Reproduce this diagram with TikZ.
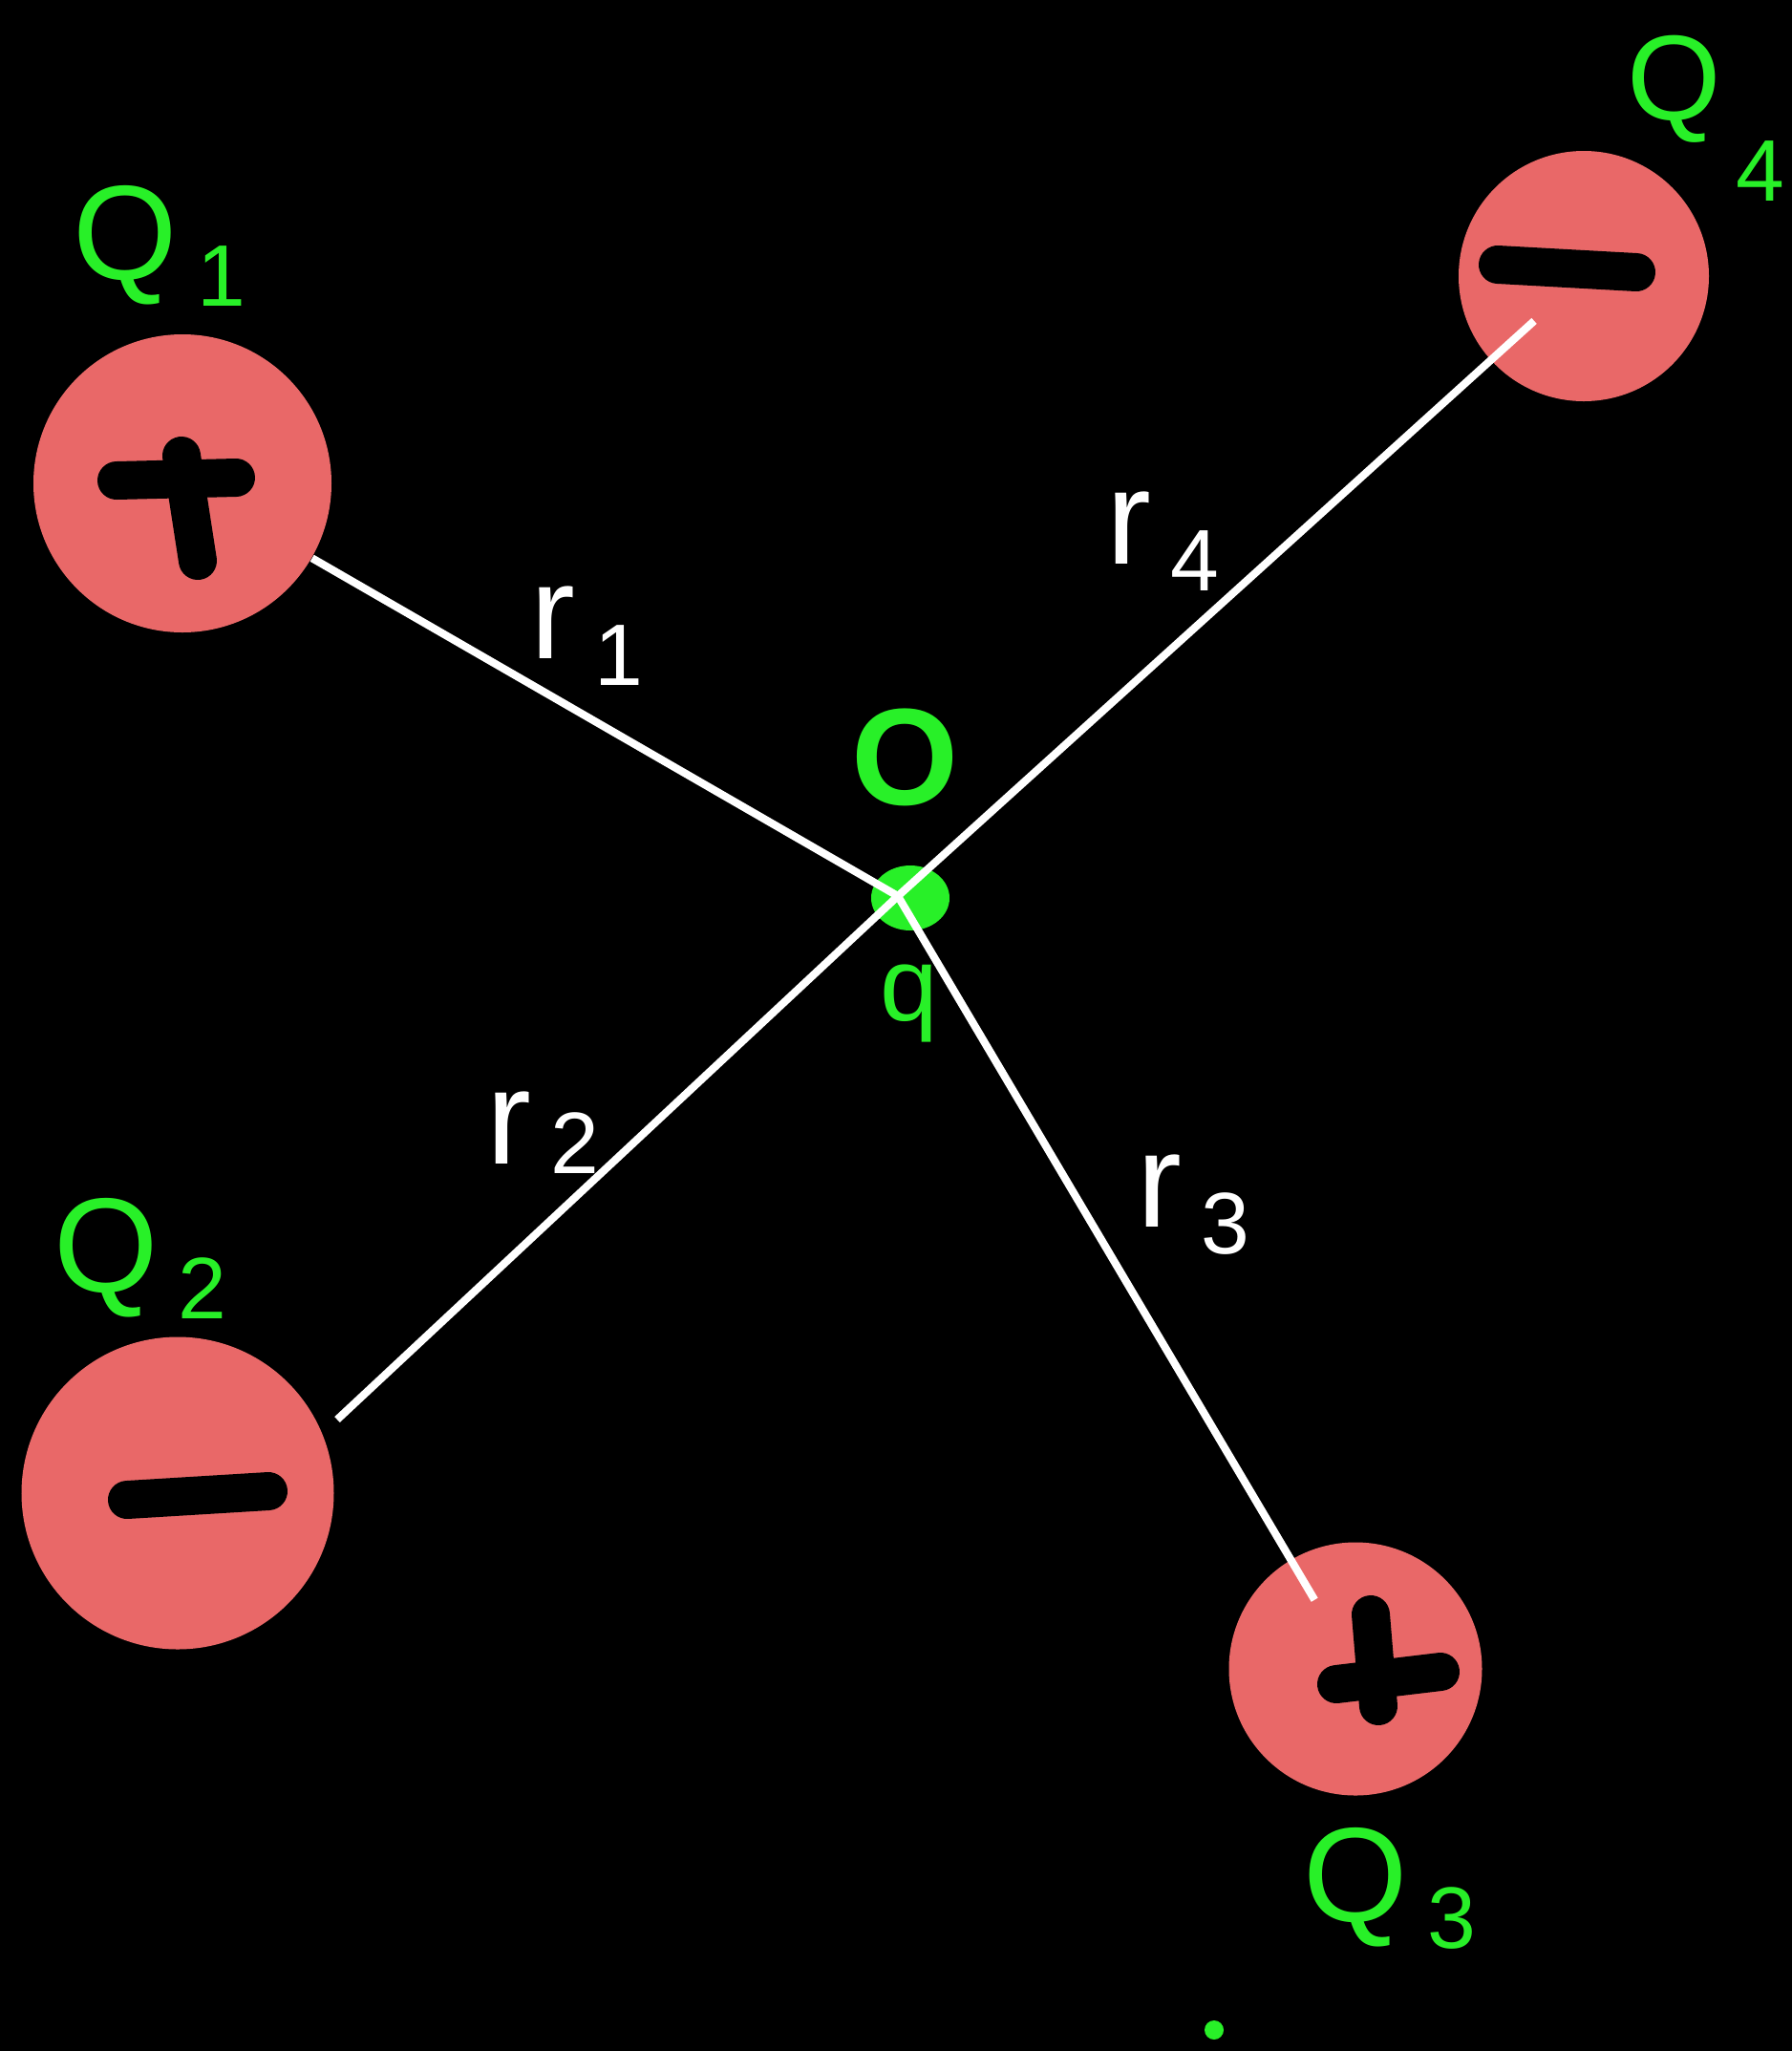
\documentclass[tikz,border=0pt]{standalone}
\usepackage{fontspec}
\setmainfont{Liberation Sans}
\usepackage{tikz}
\usetikzlibrary{calc, positioning, shapes.geometric}
\definecolor{chargered}{RGB}{233,104,104}
\definecolor{markgreen}{RGB}{40,240,40}
\newcommand{\sublbl}[2]{#1\hspace{0.2cm}\raisebox{-0.28cm}{\fontsize{26}{26}\selectfont #2}}
\tikzset{
  charge/.style={circle, fill=chargered, inner sep=0pt},
  sign/.style={line width=0.40cm, line cap=round, black},
  rline/.style={line width=2.3pt, white},
  qname/.style={text=markgreen, font=\fontsize{40}{40}\selectfont, inner sep=0pt},
  rname/.style={text=white, font=\fontsize{40}{40}\selectfont, inner sep=0pt},
}

\begin{document}
\begin{tikzpicture}[
  greenblob/.style={fill=markgreen, inner sep=0pt}
]
  \useasboundingbox (0,0) rectangle (18.76,-21.47);
  \fill[black] (0,0) rectangle (18.76,-21.47);

  % charges
  \node[charge, minimum size=3.12cm] (Q1) at (1.91,-5.06) {};
  \node[charge, minimum size=3.27cm] (Q2) at (1.86,-15.63) {};
  \node[charge, minimum size=2.65cm] (Q3) at (14.19,-17.47) {};
  \node[charge, minimum size=2.62cm] (Q4) at (16.58,-2.89) {};

  \draw[sign] ($(Q1)+(-0.69,0.03)$) -- ($(Q1)+(0.56,0.06)$);
  \draw[sign] ($(Q1)+(-0.01,0.29)$) -- ($(Q1)+(0.16,-0.81)$);
  \draw[sign] ($(Q2)+(-0.53,-0.07)$) -- ($(Q2)+(0.95,0.02)$);
  \draw[sign] ($(Q3)+(0.16,0.57)$) -- ($(Q3)+(0.24,-0.39)$);
  \draw[sign] ($(Q3)+(-0.20,-0.16)$) -- ($(Q3)+(0.89,-0.03)$);
  \draw[sign] ($(Q4)+(-0.90,0.12)$) -- ($(Q4)+(0.55,0.04)$);

  % test charge
  \node[greenblob, ellipse, minimum width=0.82cm, minimum height=0.68cm] (q) at (9.53,-9.40) {};
  \coordinate (o) at (9.40,-9.38);
  \coordinate (Q2end) at (3.53,-14.86);

  \draw[rline] (Q1) -- (o);
  \draw[rline] (Q2end) -- (o);
  \draw[rline, shorten <=0.84cm] (Q3.center) -- (o);
  \draw[rline, shorten <=0.70cm] (Q4.center) -- (o);

  \node[rname] (r1) at (6.14,-6.66) {\sublbl{r}{1}};
  \node[rname] (r2) at (5.68,-11.86) {r\hspace{0.2cm}\raisebox{-0.1cm}{\fontsize{26}{26}\selectfont 2}};
  \node[rname] (r3) at (12.49,-12.61) {\sublbl{r}{3}};
  \node[rname] (r4) at (12.17,-5.67) {\sublbl{r}{4}};

  \node[qname] (Q1name) at (1.67,-2.57) {\sublbl{Q}{1}};
  \node[qname] (Q2name) at (1.47,-13.17) {\sublbl{Q}{2}};
  \node[qname] (Q3name) at (14.55,-19.77) {\sublbl{Q}{3}};
  \node[qname, font=\fontsize{36}{36}\selectfont, anchor=base west] (Q4name) at (17.03,-1.25)
    {Q\hspace{0.15cm}\raisebox{-0.85cm}{\fontsize{26}{26}\selectfont 4}};

  \node[text=markgreen, font=\fontsize{41}{41}\selectfont\bfseries] (origin) at (9.48,-7.93) {O};
  \node[text=markgreen, font=\fontsize{31}{31}\selectfont] (qlabel) at (9.52,-10.50) {q};

  \node[greenblob, circle, minimum size=0.2cm] (dot) at (12.71,-21.25) {};
\end{tikzpicture}
\end{document}
